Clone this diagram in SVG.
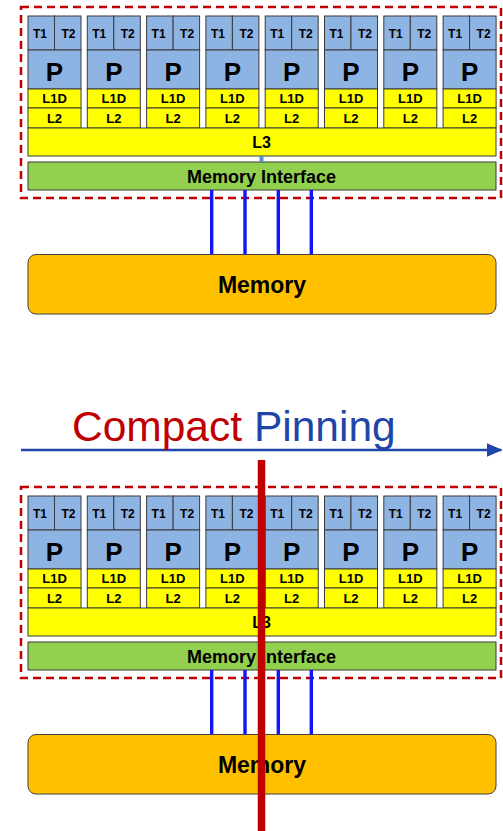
<svg xmlns="http://www.w3.org/2000/svg" width="503" height="831" viewBox="0 0 503 831">
<style>
text{font-family:"Liberation Sans",Arial,sans-serif;font-weight:bold;fill:#000;text-anchor:middle}
.b{fill:#8eb4e3;stroke:#3a3a3a;stroke-width:1}
.y{fill:#ffff00;stroke:#3a3a3a;stroke-width:1}
.g{fill:#92d050;stroke:#3a3a3a;stroke-width:1}
.mem{fill:#ffc000;stroke:#404040;stroke-width:1}
.dash{fill:none;stroke:#c00000;stroke-width:2.5;stroke-dasharray:8,5}
.s{font-size:12px}
.p{font-size:26px}
.m{font-size:13px}
.l3{font-size:16px}
.mi{font-size:18px}
.mt{font-size:23px}
.bus{stroke:#1414ff;stroke-width:3.4}
</style>
<defs>
<marker id="ah" markerUnits="userSpaceOnUse" markerWidth="16" markerHeight="14" refX="15" refY="7" orient="auto">
<path d="M0,0 L16,7 L0,14 Z" fill="#1f45a8"/>
</marker>
</defs>

<!-- Block 1 -->
<g id="block1">
<rect id="socket1" class="dash" x="21" y="7" width="480" height="191"/>
<g id="c1_0" transform="translate(28,0)"><rect class="b" x="0" y="16" width="26.5" height="34"/><rect class="b" x="26.5" y="16" width="26.5" height="34"/><rect class="b" x="0" y="50" width="53" height="39"/><rect class="y" x="0" y="89" width="53" height="19"/><rect class="y" x="0" y="108" width="53" height="20"/><text class="s" x="12" y="37.7">T1</text><text class="s" x="40.5" y="37.7">T2</text><text class="p" x="26.5" y="81">P</text><text class="m" x="26.5" y="103.3">L1D</text><text class="m" x="26.5" y="123.3">L2</text></g>
<g id="c1_1" transform="translate(87.3,0)"><rect class="b" x="0" y="16" width="26.5" height="34"/><rect class="b" x="26.5" y="16" width="26.5" height="34"/><rect class="b" x="0" y="50" width="53" height="39"/><rect class="y" x="0" y="89" width="53" height="19"/><rect class="y" x="0" y="108" width="53" height="20"/><text class="s" x="12" y="37.7">T1</text><text class="s" x="40.5" y="37.7">T2</text><text class="p" x="26.5" y="81">P</text><text class="m" x="26.5" y="103.3">L1D</text><text class="m" x="26.5" y="123.3">L2</text></g>
<g id="c1_2" transform="translate(146.6,0)"><rect class="b" x="0" y="16" width="26.5" height="34"/><rect class="b" x="26.5" y="16" width="26.5" height="34"/><rect class="b" x="0" y="50" width="53" height="39"/><rect class="y" x="0" y="89" width="53" height="19"/><rect class="y" x="0" y="108" width="53" height="20"/><text class="s" x="12" y="37.7">T1</text><text class="s" x="40.5" y="37.7">T2</text><text class="p" x="26.5" y="81">P</text><text class="m" x="26.5" y="103.3">L1D</text><text class="m" x="26.5" y="123.3">L2</text></g>
<g id="c1_3" transform="translate(205.9,0)"><rect class="b" x="0" y="16" width="26.5" height="34"/><rect class="b" x="26.5" y="16" width="26.5" height="34"/><rect class="b" x="0" y="50" width="53" height="39"/><rect class="y" x="0" y="89" width="53" height="19"/><rect class="y" x="0" y="108" width="53" height="20"/><text class="s" x="12" y="37.7">T1</text><text class="s" x="40.5" y="37.7">T2</text><text class="p" x="26.5" y="81">P</text><text class="m" x="26.5" y="103.3">L1D</text><text class="m" x="26.5" y="123.3">L2</text></g>
<g id="c1_4" transform="translate(265.2,0)"><rect class="b" x="0" y="16" width="26.5" height="34"/><rect class="b" x="26.5" y="16" width="26.5" height="34"/><rect class="b" x="0" y="50" width="53" height="39"/><rect class="y" x="0" y="89" width="53" height="19"/><rect class="y" x="0" y="108" width="53" height="20"/><text class="s" x="12" y="37.7">T1</text><text class="s" x="40.5" y="37.7">T2</text><text class="p" x="26.5" y="81">P</text><text class="m" x="26.5" y="103.3">L1D</text><text class="m" x="26.5" y="123.3">L2</text></g>
<g id="c1_5" transform="translate(324.5,0)"><rect class="b" x="0" y="16" width="26.5" height="34"/><rect class="b" x="26.5" y="16" width="26.5" height="34"/><rect class="b" x="0" y="50" width="53" height="39"/><rect class="y" x="0" y="89" width="53" height="19"/><rect class="y" x="0" y="108" width="53" height="20"/><text class="s" x="12" y="37.7">T1</text><text class="s" x="40.5" y="37.7">T2</text><text class="p" x="26.5" y="81">P</text><text class="m" x="26.5" y="103.3">L1D</text><text class="m" x="26.5" y="123.3">L2</text></g>
<g id="c1_6" transform="translate(383.8,0)"><rect class="b" x="0" y="16" width="26.5" height="34"/><rect class="b" x="26.5" y="16" width="26.5" height="34"/><rect class="b" x="0" y="50" width="53" height="39"/><rect class="y" x="0" y="89" width="53" height="19"/><rect class="y" x="0" y="108" width="53" height="20"/><text class="s" x="12" y="37.7">T1</text><text class="s" x="40.5" y="37.7">T2</text><text class="p" x="26.5" y="81">P</text><text class="m" x="26.5" y="103.3">L1D</text><text class="m" x="26.5" y="123.3">L2</text></g>
<g id="c1_7" transform="translate(443.1,0)"><rect class="b" x="0" y="16" width="26.5" height="34"/><rect class="b" x="26.5" y="16" width="26.5" height="34"/><rect class="b" x="0" y="50" width="53" height="39"/><rect class="y" x="0" y="89" width="53" height="19"/><rect class="y" x="0" y="108" width="53" height="20"/><text class="s" x="12" y="37.7">T1</text><text class="s" x="40.5" y="37.7">T2</text><text class="p" x="26.5" y="81">P</text><text class="m" x="26.5" y="103.3">L1D</text><text class="m" x="26.5" y="123.3">L2</text></g>
<g id="l3_1"><rect class="y" x="28" y="128" width="468" height="28"/><text class="l3" x="261.5" y="148">L3</text></g>
<g id="mi_1"><rect class="g" x="28" y="162" width="468" height="28"/><text class="mi" x="261.5" y="183">Memory Interface</text></g>
<g id="mem_1"><rect class="mem" x="28" y="254.5" width="468" height="59.5" rx="8"/><text class="mt" x="262" y="293">Memory</text></g>
</g>

<!-- Block 2 -->
<g id="block2" transform="translate(0,480)">
<rect id="socket2" class="dash" x="21" y="7" width="480" height="191"/>
<g id="c2_0" transform="translate(28,0)"><rect class="b" x="0" y="16" width="26.5" height="34"/><rect class="b" x="26.5" y="16" width="26.5" height="34"/><rect class="b" x="0" y="50" width="53" height="39"/><rect class="y" x="0" y="89" width="53" height="19"/><rect class="y" x="0" y="108" width="53" height="20"/><text class="s" x="12" y="37.7">T1</text><text class="s" x="40.5" y="37.7">T2</text><text class="p" x="26.5" y="81">P</text><text class="m" x="26.5" y="103.3">L1D</text><text class="m" x="26.5" y="123.3">L2</text></g>
<g id="c2_1" transform="translate(87.3,0)"><rect class="b" x="0" y="16" width="26.5" height="34"/><rect class="b" x="26.5" y="16" width="26.5" height="34"/><rect class="b" x="0" y="50" width="53" height="39"/><rect class="y" x="0" y="89" width="53" height="19"/><rect class="y" x="0" y="108" width="53" height="20"/><text class="s" x="12" y="37.7">T1</text><text class="s" x="40.5" y="37.7">T2</text><text class="p" x="26.5" y="81">P</text><text class="m" x="26.5" y="103.3">L1D</text><text class="m" x="26.5" y="123.3">L2</text></g>
<g id="c2_2" transform="translate(146.6,0)"><rect class="b" x="0" y="16" width="26.5" height="34"/><rect class="b" x="26.5" y="16" width="26.5" height="34"/><rect class="b" x="0" y="50" width="53" height="39"/><rect class="y" x="0" y="89" width="53" height="19"/><rect class="y" x="0" y="108" width="53" height="20"/><text class="s" x="12" y="37.7">T1</text><text class="s" x="40.5" y="37.7">T2</text><text class="p" x="26.5" y="81">P</text><text class="m" x="26.5" y="103.3">L1D</text><text class="m" x="26.5" y="123.3">L2</text></g>
<g id="c2_3" transform="translate(205.9,0)"><rect class="b" x="0" y="16" width="26.5" height="34"/><rect class="b" x="26.5" y="16" width="26.5" height="34"/><rect class="b" x="0" y="50" width="53" height="39"/><rect class="y" x="0" y="89" width="53" height="19"/><rect class="y" x="0" y="108" width="53" height="20"/><text class="s" x="12" y="37.7">T1</text><text class="s" x="40.5" y="37.7">T2</text><text class="p" x="26.5" y="81">P</text><text class="m" x="26.5" y="103.3">L1D</text><text class="m" x="26.5" y="123.3">L2</text></g>
<g id="c2_4" transform="translate(265.2,0)"><rect class="b" x="0" y="16" width="26.5" height="34"/><rect class="b" x="26.5" y="16" width="26.5" height="34"/><rect class="b" x="0" y="50" width="53" height="39"/><rect class="y" x="0" y="89" width="53" height="19"/><rect class="y" x="0" y="108" width="53" height="20"/><text class="s" x="12" y="37.7">T1</text><text class="s" x="40.5" y="37.7">T2</text><text class="p" x="26.5" y="81">P</text><text class="m" x="26.5" y="103.3">L1D</text><text class="m" x="26.5" y="123.3">L2</text></g>
<g id="c2_5" transform="translate(324.5,0)"><rect class="b" x="0" y="16" width="26.5" height="34"/><rect class="b" x="26.5" y="16" width="26.5" height="34"/><rect class="b" x="0" y="50" width="53" height="39"/><rect class="y" x="0" y="89" width="53" height="19"/><rect class="y" x="0" y="108" width="53" height="20"/><text class="s" x="12" y="37.7">T1</text><text class="s" x="40.5" y="37.7">T2</text><text class="p" x="26.5" y="81">P</text><text class="m" x="26.5" y="103.3">L1D</text><text class="m" x="26.5" y="123.3">L2</text></g>
<g id="c2_6" transform="translate(383.8,0)"><rect class="b" x="0" y="16" width="26.5" height="34"/><rect class="b" x="26.5" y="16" width="26.5" height="34"/><rect class="b" x="0" y="50" width="53" height="39"/><rect class="y" x="0" y="89" width="53" height="19"/><rect class="y" x="0" y="108" width="53" height="20"/><text class="s" x="12" y="37.7">T1</text><text class="s" x="40.5" y="37.7">T2</text><text class="p" x="26.5" y="81">P</text><text class="m" x="26.5" y="103.3">L1D</text><text class="m" x="26.5" y="123.3">L2</text></g>
<g id="c2_7" transform="translate(443.1,0)"><rect class="b" x="0" y="16" width="26.5" height="34"/><rect class="b" x="26.5" y="16" width="26.5" height="34"/><rect class="b" x="0" y="50" width="53" height="39"/><rect class="y" x="0" y="89" width="53" height="19"/><rect class="y" x="0" y="108" width="53" height="20"/><text class="s" x="12" y="37.7">T1</text><text class="s" x="40.5" y="37.7">T2</text><text class="p" x="26.5" y="81">P</text><text class="m" x="26.5" y="103.3">L1D</text><text class="m" x="26.5" y="123.3">L2</text></g>
<g id="l3_2"><rect class="y" x="28" y="128" width="468" height="28"/><text class="l3" x="261.5" y="148">L3</text></g>
<g id="mi_2"><rect class="g" x="28" y="162" width="468" height="28"/><text class="mi" x="261.5" y="183">Memory Interface</text></g>
<g id="mem_2"><rect class="mem" x="28" y="254.5" width="468" height="59.5" rx="8"/><text class="mt" x="262" y="293">Memory</text></g>
</g>

<g id="connectors">
<line x1="261.5" y1="156" x2="261.5" y2="162" stroke="#5b8fd0" stroke-width="4"/>
<line class="bus" x1="211.7" y1="190" x2="211.7" y2="254.5"/>
<line class="bus" x1="245" y1="190" x2="245" y2="254.5"/>
<line class="bus" x1="278.3" y1="190" x2="278.3" y2="254.5"/>
<line class="bus" x1="311.3" y1="190" x2="311.3" y2="254.5"/>
<line class="bus" x1="211.7" y1="670" x2="211.7" y2="734.5"/>
<line class="bus" x1="245" y1="670" x2="245" y2="734.5"/>
<line class="bus" x1="278.3" y1="670" x2="278.3" y2="734.5"/>
<line class="bus" x1="311.3" y1="670" x2="311.3" y2="734.5"/>
<line id="axis" x1="21" y1="450" x2="501.5" y2="450" stroke="#1f45a8" stroke-width="2.5" marker-end="url(#ah)"/>
<line id="cut" x1="261.5" y1="460" x2="261.5" y2="831" stroke="#c00000" stroke-width="7.5"/>
</g>

<g id="title">
<text x="72" y="441" style="font-weight:normal;font-size:42.5px;text-anchor:start"><tspan fill="#c00000">Compact</tspan> <tspan fill="#1f45a8">Pinning</tspan></text>
</g>
</svg>
